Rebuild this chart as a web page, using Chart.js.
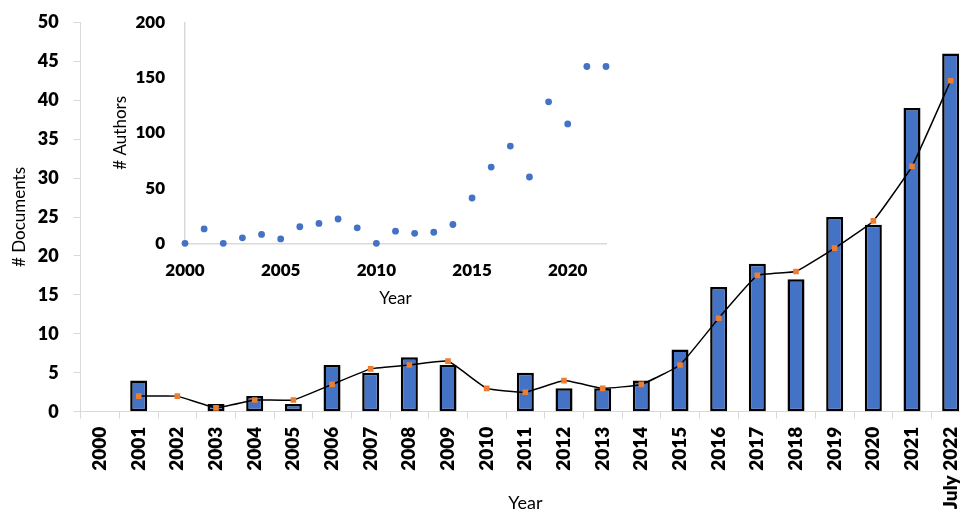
<!DOCTYPE html>
<html>
<head>
<meta charset="utf-8">
<script src="https://cdn.jsdelivr.net/npm/chart.js@4/dist/chart.umd.min.js"></script>
<style>
  html, body { margin: 0; padding: 0; overflow: hidden; background: #fff; width: 960px; height: 514px; }
  #wrap { position: relative; width: 960px; height: 514px; overflow: hidden; }
  #docs { position: absolute; left: 0; top: 0; }
  #authors { position: absolute; left: 100px; top: 0; }
</style>
</head>
<body>
<div id="wrap">
  <canvas id="docs" width="975" height="514"></canvas>
  <canvas id="authors" width="530" height="320"></canvas>
</div>
<script>
// Publications per year (bars) with a 2-period moving average (line)
const years = ['2000', '2001', '2002', '2003', '2004', '2005', '2006', '2007', '2008', '2009', '2010',
  '2011', '2012', '2013', '2014', '2015', '2016', '2017', '2018', '2019', '2020', '2021', 'July 2022'];
const documents = [0, 4, 0, 1, 2, 1, 6, 5, 7, 6, 0, 5, 3, 3, 4, 8, 16, 19, 17, 25, 24, 39, 46];
const movingAverage = [null, 2, 2, 0.5, 1.5, 1.5, 3.5, 5.5, 6, 6.5, 3, 2.5, 4, 3, 3.5, 6, 12, 17.5, 18, 21, 24.5, 31.5, 42.5];
const documentTicks = [0, 5, 10, 15, 20, 25, 30, 35, 40, 45, 50];

// Distinct authors per year (inset scatter)
const authorYears = [2000, 2001, 2002, 2003, 2004, 2005, 2006, 2007, 2008, 2009, 2010,
  2011, 2012, 2013, 2014, 2015, 2016, 2017, 2018, 2019, 2020, 2021, 2022];
const authors = [0, 13, 0, 5, 8, 4, 15, 18, 22, 14, 0, 11, 9, 10, 17, 41, 69, 88, 60, 128, 108, 160, 160];
const authorTicks = [0, 50, 100, 150, 200];
const authorYearTicks = [2000, 2005, 2010, 2015, 2020];

const BLUE = '#4472C4';
const ORANGE = '#ED7D31';
const AXIS = '#d9d9d9';
const FONT = 'Lato, Carlito, "Liberation Sans", sans-serif';
const TICK_WEIGHT = 800;

function draw() {
  Chart.defaults.font.family = FONT;
  Chart.defaults.color = '#000';

  new Chart(document.getElementById('docs'), {
    type: 'bar',
    data: {
      labels: years,
      datasets: [
        {
          type: 'line',
          label: 'Moving average',
          data: movingAverage,
          borderColor: '#000',
          borderWidth: 1.5,
          tension: 0.1,
          pointStyle: 'rect',
          pointRadius: 4,
          pointBackgroundColor: ORANGE,
          pointBorderWidth: 0,
          order: 0
        },
        {
          label: '# Documents',
          data: documents,
          backgroundColor: BLUE,
          borderColor: '#000',
          borderWidth: 2.5,
          borderSkipped: false,
          categoryPercentage: 1,
          barPercentage: 0.44,
          order: 1
        }
      ]
    },
    options: {
      responsive: false,
      animation: false,
      layout: { padding: { top: 22.3, right: 5, bottom: 0, left: 0 } },
      plugins: { legend: { display: false }, tooltip: { enabled: false } },
      scales: {
        x: {
          offset: true,
          grid: { display: true, drawOnChartArea: false, drawTicks: true, tickLength: 7, color: AXIS, offset: true },
          border: { color: AXIS, width: 1 },
          ticks: {
            autoSkip: false, minRotation: 90, maxRotation: 90, padding: 8,
            font: { size: 19, weight: TICK_WEIGHT }, color: '#000'
          },
          title: { display: true, text: 'Year', font: { size: 18 }, color: '#000', padding: { top: 0, bottom: 0 } },
          afterFit: (s) => { s.height = 102.3; s.paddingLeft = 0; s.paddingRight = 0; }
        },
        y: {
          min: 0, max: 50,
          afterBuildTicks: (s) => { s.ticks = documentTicks.map(v => ({ value: v })); },
          grid: { display: true, drawOnChartArea: false, drawTicks: true, tickLength: 7, color: AXIS },
          border: { color: AXIS, width: 1 },
          ticks: { padding: 15, font: { size: 18, weight: TICK_WEIGHT }, color: '#000' },
          title: { display: true, text: '# Documents', font: { size: 17 }, color: '#000', padding: { top: 9, bottom: 0 } },
          afterFit: (s) => { s.width = 80.7; s.paddingTop = 10; s.paddingBottom = 10; }
        }
      }
    }
  });

  new Chart(document.getElementById('authors'), {
    type: 'scatter',
    data: {
      datasets: [{
        label: '# Authors',
        data: authorYears.map((yr, i) => ({ x: yr, y: authors[i] })),
        backgroundColor: BLUE,
        borderColor: BLUE,
        pointRadius: 3.4,
        pointBorderWidth: 0,
        clip: false
      }]
    },
    options: {
      responsive: false,
      animation: false,
      layout: { padding: { top: 22.3, right: 24, bottom: 0, left: 0 } },
      plugins: { legend: { display: false }, tooltip: { enabled: false } },
      scales: {
        x: {
          type: 'linear', min: 2000, max: 2022,
          afterBuildTicks: (s) => { s.ticks = authorYearTicks.map(v => ({ value: v })); },
          grid: { display: false, drawTicks: false },
          border: { color: AXIS, width: 1.5 },
          ticks: { padding: 17, font: { size: 17, weight: TICK_WEIGHT }, color: '#000', callback: (v) => String(v) },
          title: { display: true, text: 'Year', font: { size: 17 }, color: '#000', padding: { top: 0, bottom: 11 } },
          afterFit: (s) => { s.height = 76.7; s.paddingLeft = 0; s.paddingRight = 0; }
        },
        y: {
          min: 0, max: 200,
          afterBuildTicks: (s) => { s.ticks = authorTicks.map(v => ({ value: v })); },
          grid: { display: false, drawTicks: false },
          border: { color: AXIS, width: 1.5 },
          ticks: { padding: 20, font: { size: 17, weight: TICK_WEIGHT }, color: '#000' },
          title: { display: true, text: '# Authors', font: { size: 17 }, color: '#000', padding: { top: 10, bottom: 0 } },
          afterFit: (s) => { s.width = 85; s.paddingTop = 10; s.paddingBottom = 10; }
        }
      }
    }
  });
}

const fontLoads = document.fonts
  ? Promise.all([document.fonts.load('800 19px Lato'), document.fonts.load('17px Lato')]).catch(() => {})
  : Promise.resolve();
fontLoads.then(draw, draw);
</script>
</body>
</html>
